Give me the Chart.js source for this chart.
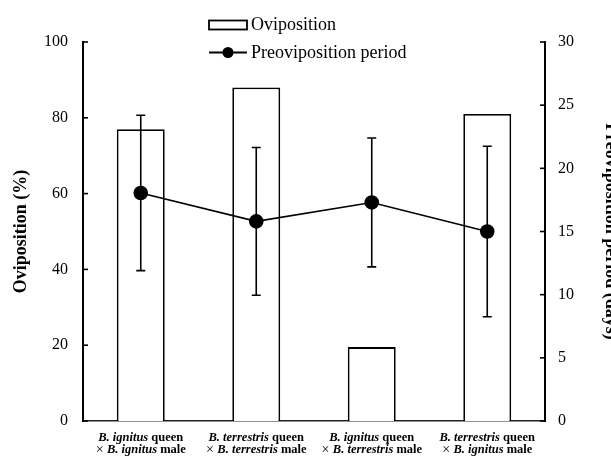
<!DOCTYPE html>
<html>
<head>
<meta charset="utf-8">
<script src="https://cdn.jsdelivr.net/npm/chart.js@4/dist/chart.umd.min.js"></script>
<style>
    html, body { margin: 0; padding: 0; background: #fff; }
    #wrap { width: 611px; height: 457px; }
</style>
</head>
<body>
<div id="wrap"><canvas id="chart_oviposition"></canvas></div>
<script>
// ----------------------- data -----------------------

const queenNames = ["B. ignitus", "B. terrestris", "B. ignitus", "B. terrestris"];
const maleNames = ["B. ignitus", "B. terrestris", "B. terrestris", "B. ignitus"];
const categories = queenNames.map((q, i) => q + " queen × " + maleNames[i] + " male");

const ovipositionPct = [77, 88, 19.5, 81];
const preovPeriod = [18.05, 15.8, 17.3, 15.0];
const preovError = [6.15, 5.85, 5.1, 6.75];

const leftTicks = [0, 20, 40, 60, 80, 100];
const rightTicks = [0, 5, 10, 15, 20, 25, 30];

const SERIF = "'Liberation Serif', 'Times New Roman', serif";

// ----------------------- plugins -----------------------

// vertical error bars on the preoviposition line
const errorBarPlugin = {
    id: "errorBars",
    afterDatasetsDraw(chart) {
        const ctx = chart.ctx;
        const meta = chart.getDatasetMeta(0);
        const y1 = chart.scales.y1;
        ctx.save();
        ctx.strokeStyle = "#000";
        ctx.lineWidth = 1.6;
        meta.data.forEach((pt, i) => {
            const x = pt.x;
            const top = y1.getPixelForValue(preovPeriod[i] + preovError[i]);
            const bot = y1.getPixelForValue(preovPeriod[i] - preovError[i]);
            ctx.beginPath();
            ctx.moveTo(x, top);
            ctx.lineTo(x, bot);
            ctx.moveTo(x - 4.5, top);
            ctx.lineTo(x + 4.5, top);
            ctx.moveTo(x - 4.5, bot);
            ctx.lineTo(x + 4.5, bot);
            ctx.stroke();
        });
        ctx.restore();
    }
};

// inward tick marks, x labels with italic names, legend
const decorPlugin = {
    id: "decor",
    afterDraw(chart) {
        const ctx = chart.ctx;
        const { y, y1, x } = chart.scales;
        const area = chart.chartArea;
        ctx.save();
        ctx.strokeStyle = "#000";
        ctx.lineWidth = 1.6;
        leftTicks.forEach(v => {
            const py = y.getPixelForValue(v);
            ctx.beginPath();
            ctx.moveTo(area.left, py);
            ctx.lineTo(area.left + 5, py);
            ctx.stroke();
        });
        rightTicks.forEach(v => {
            const py = y1.getPixelForValue(v);
            ctx.beginPath();
            ctx.moveTo(area.right, py);
            ctx.lineTo(area.right - 5, py);
            ctx.stroke();
        });

        // category labels (two lines, species in italic)
        ctx.fillStyle = "#000";
        ctx.textBaseline = "middle";
        const italic = "italic bold 12.5px " + SERIF;
        const plain = "bold 12.5px " + SERIF;
        function drawMixed(parts, cx, cy) {
            let w = 0;
            parts.forEach(p => { ctx.font = p[1]; w += ctx.measureText(p[0]).width; });
            let px = cx - w / 2;
            ctx.textAlign = "left";
            parts.forEach(p => {
                ctx.font = p[1];
                ctx.fillText(p[0], px, cy);
                px += ctx.measureText(p[0]).width;
            });
        }
        categories.forEach((c, i) => {
            const cx = x.getPixelForValue(i);
            drawMixed([[queenNames[i], italic], [" queen", plain]], cx, area.bottom + 17);
            drawMixed([["× ", "14px " + SERIF], [maleNames[i], italic], [" male", plain]], cx, area.bottom + 29);
        });

        // legend
        ctx.font = "18px " + SERIF;
        ctx.textAlign = "left";
        ctx.lineWidth = 1.8;
        ctx.strokeRect(209, 20.5, 38, 9);
        ctx.fillText(chart.data.datasets[1].label, 251, 25.5);
        ctx.beginPath();
        ctx.moveTo(209, 52.5);
        ctx.lineTo(247, 52.5);
        ctx.stroke();
        ctx.beginPath();
        ctx.arc(228, 52.5, 5.5, 0, Math.PI * 2);
        ctx.fill();
        ctx.fillText(chart.data.datasets[0].label, 251, 53.5);
        ctx.restore();
    }
};

// ----------------------- chart -----------------------

const ctx = document.getElementById("chart_oviposition");

new Chart(ctx, {
    type: "bar",
    data: {
        labels: categories,
        datasets: [
            {
                type: "line",
                label: "Preoviposition period",
                data: preovPeriod,
                yAxisID: "y1",
                borderColor: "#000",
                borderWidth: 1.6,
                pointRadius: 6.5,
                pointBackgroundColor: "#000",
                pointBorderColor: "#000",
                tension: 0,
                order: 0,
            },
            {
                label: "Oviposition",
                data: ovipositionPct,
                yAxisID: "y",
                backgroundColor: "#fff",
                borderColor: "#000",
                borderWidth: 1.8,
                categoryPercentage: 1,
                barPercentage: 0.415,
                order: 1,
            }
        ]
    },
    options: {
        responsive: true,
        maintainAspectRatio: false,
        animation: false,
        layout: { padding: { top: 42, left: 0, right: 0, bottom: 0 } },
        plugins: {
            legend: { display: false },
            tooltip: { enabled: false }
        },
        scales: {
            x: {
                grid: { display: false, drawTicks: false },
                border: { display: true, color: "#222", width: 1.6 },
                ticks: { display: false },
                afterFit: s => { s.height = 36; }
            },
            y: {
                position: "left",
                min: 0,
                max: 100,
                grid: { display: false, drawTicks: false },
                border: { display: true, color: "#000", width: 2 },
                ticks: {
                    stepSize: 20,
                    padding: 15,
                    color: "#000",
                    font: { family: SERIF, size: 16 }
                },
                title: {
                    display: true,
                    text: "Oviposition (%)",
                    color: "#000",
                    font: { family: SERIF, size: 18, weight: "bold" },
                    padding: { top: 11, bottom: 0 }
                },
                afterFit: s => { s.width = 83; }
            },
            y1: {
                position: "right",
                min: 0,
                max: 30,
                grid: { display: false, drawTicks: false },
                border: { display: true, color: "#000", width: 2 },
                ticks: {
                    stepSize: 5,
                    padding: 13,
                    color: "#000",
                    font: { family: SERIF, size: 16 }
                },
                title: {
                    display: true,
                    text: "Preoviposition period (days)",
                    color: "#000",
                    font: { family: SERIF, size: 18, weight: "bold" },
                    padding: { top: -10, bottom: 0 }
                },
                afterFit: s => { s.width = 66; }
            }
        }
    },
    plugins: [errorBarPlugin, decorPlugin]
});
</script>
</body>
</html>
